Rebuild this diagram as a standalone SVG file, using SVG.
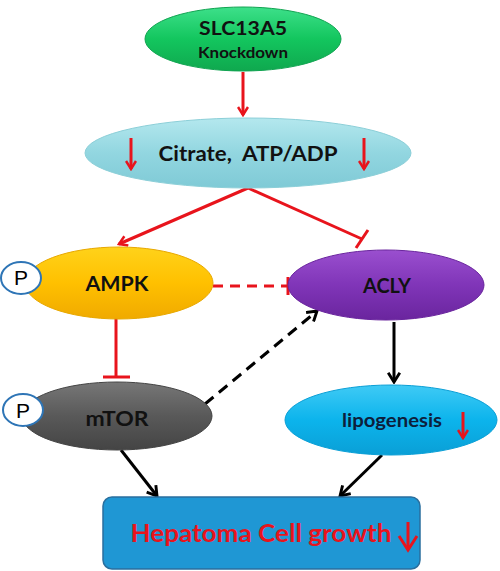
<svg xmlns="http://www.w3.org/2000/svg" width="500" height="571" viewBox="0 0 500 571">
<style>
.lbl{font-family:Lato,"Open Sans",sans-serif;font-weight:bold;text-anchor:middle;fill:#111}
.red{stroke:#e8141c;stroke-width:3;fill:none}
.blk{stroke:#000;stroke-width:3;fill:none}
.p{fill:#fff;stroke:#2e75b6;stroke-width:2}
.ptxt{font-family:"Liberation Sans",sans-serif;font-size:21px;text-anchor:middle;fill:#000}
</style>
<defs>
<linearGradient id="gG" x1="0" y1="0" x2="0" y2="1"><stop offset="0" stop-color="#3de08a"/><stop offset="0.5" stop-color="#13c65e"/><stop offset="1" stop-color="#0fa84e"/></linearGradient>
<linearGradient id="gC" x1="0" y1="0" x2="0" y2="1"><stop offset="0" stop-color="#b4e8ee"/><stop offset="0.5" stop-color="#92d6e0"/><stop offset="1" stop-color="#7fcad6"/></linearGradient>
<linearGradient id="gY" x1="0" y1="0" x2="0" y2="1"><stop offset="0" stop-color="#ffd21a"/><stop offset="0.5" stop-color="#ffc000"/><stop offset="1" stop-color="#f0aa00"/></linearGradient>
<linearGradient id="gP" x1="0" y1="0" x2="0" y2="1"><stop offset="0" stop-color="#9a4fcf"/><stop offset="0.5" stop-color="#8035b8"/><stop offset="1" stop-color="#6a259e"/></linearGradient>
<linearGradient id="gM" x1="0" y1="0" x2="0" y2="1"><stop offset="0" stop-color="#777"/><stop offset="0.5" stop-color="#595959"/><stop offset="1" stop-color="#444"/></linearGradient>
<linearGradient id="gL" x1="0" y1="0" x2="0" y2="1"><stop offset="0" stop-color="#3fcaf5"/><stop offset="0.5" stop-color="#0cb4ec"/><stop offset="1" stop-color="#0a9fd6"/></linearGradient>
<marker id="aR" viewBox="0 0 12 12" refX="10" refY="6" markerWidth="12" markerHeight="12" markerUnits="userSpaceOnUse" orient="auto"><path d="M2,1 L10,6 L2,11" fill="none" stroke="#e8141c" stroke-width="2.5"/></marker>
<marker id="aB" viewBox="0 0 12 12" refX="10" refY="6" markerWidth="14" markerHeight="14" markerUnits="userSpaceOnUse" orient="auto"><path d="M2,1 L10,6 L2,11" fill="none" stroke="#000" stroke-width="2.5"/></marker>
</defs>

<g id="connectors">
<line class="red" x1="243" y1="72" x2="243" y2="115" marker-end="url(#aR)"/>
<line class="red" x1="248" y1="188" x2="119" y2="244" marker-end="url(#aR)"/>
<line class="red" x1="248" y1="188" x2="362" y2="239"/>
<line class="red" x1="356" y1="248" x2="368" y2="230"/>
<line class="red" x1="213" y1="286" x2="288" y2="286" stroke-dasharray="10,7"/>
<line class="red" x1="288" y1="277" x2="288" y2="295"/>
<line class="red" x1="116" y1="318" x2="116" y2="377"/>
<line class="red" x1="103" y1="377" x2="130" y2="377"/>
<line class="blk" x1="205" y1="404" x2="317" y2="311" stroke-dasharray="11,7" marker-end="url(#aB)"/>
<line class="blk" x1="394" y1="322" x2="394" y2="382" marker-end="url(#aB)"/>
<line class="blk" x1="121" y1="450" x2="157" y2="496" marker-end="url(#aB)"/>
<line class="blk" x1="382" y1="455" x2="340" y2="496" marker-end="url(#aB)"/>
</g>

<g id="slc13a5">
<ellipse cx="243" cy="39" rx="98" ry="32" fill="url(#gG)" stroke="#12a452" stroke-width="1"/>
<text class="lbl" x="243" y="35" font-size="18" textLength="88" lengthAdjust="spacingAndGlyphs">SLC13A5</text>
<text class="lbl" x="243" y="58" font-size="15" textLength="90" lengthAdjust="spacingAndGlyphs">Knockdown</text>
</g>

<g id="citrate">
<ellipse cx="248" cy="153" rx="163" ry="35" fill="url(#gC)" stroke="#8ccfd8" stroke-width="1"/>
<text class="lbl" x="248" y="161" font-size="20" textLength="179" lengthAdjust="spacingAndGlyphs" xml:space="preserve">Citrate,  ATP/ADP</text>
<line class="red" x1="131" y1="138" x2="131" y2="169" marker-end="url(#aR)"/>
<line class="red" x1="364" y1="138" x2="364" y2="169" marker-end="url(#aR)"/>
</g>

<g id="ampk">
<ellipse cx="119" cy="283" rx="94" ry="36" fill="url(#gY)" stroke="#e8a800" stroke-width="1"/>
<text class="lbl" x="117" y="291" font-size="20" textLength="63" lengthAdjust="spacingAndGlyphs">AMPK</text>
<ellipse class="p" cx="21" cy="278" rx="20" ry="16"/>
<text class="ptxt" x="21" y="285">P</text>
</g>

<g id="acly">
<ellipse cx="386" cy="285" rx="98" ry="35" fill="url(#gP)" stroke="#6a259e" stroke-width="1"/>
<text class="lbl" x="387" y="293" font-size="20" textLength="48" lengthAdjust="spacingAndGlyphs">ACLY</text>
</g>

<g id="mtor">
<ellipse cx="117" cy="416" rx="95" ry="34" fill="url(#gM)" stroke="#444" stroke-width="1"/>
<text class="lbl" x="117" y="426" font-size="20" textLength="63" lengthAdjust="spacingAndGlyphs">mTOR</text>
<ellipse class="p" cx="23" cy="410" rx="20" ry="16"/>
<text class="ptxt" x="23" y="418">P</text>
</g>

<g id="lipogenesis">
<ellipse cx="391" cy="420" rx="106" ry="35" fill="url(#gL)" stroke="#0a9fd6" stroke-width="1"/>
<text class="lbl" x="392" y="427" font-size="18" textLength="100" lengthAdjust="spacingAndGlyphs" style="fill:#0d1f3c">lipogenesis</text>
<line class="red" x1="463" y1="412" x2="463" y2="438" marker-end="url(#aR)"/>
</g>

<g id="hepatoma">
<rect x="103" y="497" width="317" height="72" rx="9" fill="#1f97d4" stroke="#2a6f9e" stroke-width="1.5"/>
<text class="lbl" x="261" y="542" font-size="24" textLength="261" lengthAdjust="spacingAndGlyphs" style="fill:#e8141c">Hepatoma Cell growth</text>
<path d="M408,522 L408,548" class="red" stroke-width="4"/>
<path d="M399,536 L408,550 L417,536" class="red" stroke-width="4"/>
</g>
</svg>
